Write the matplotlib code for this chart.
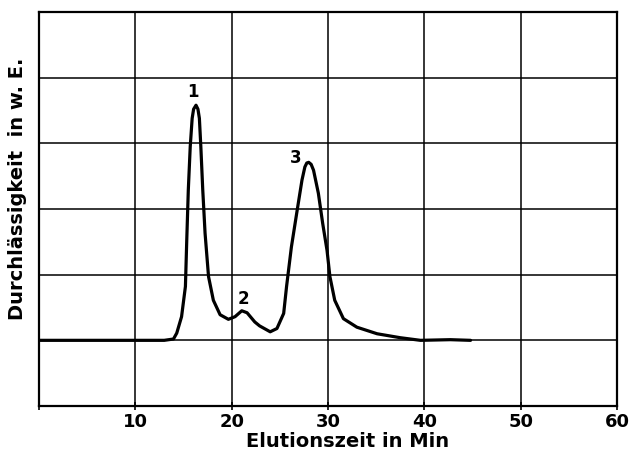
import matplotlib
matplotlib.use("Agg")
import matplotlib.pyplot as plt

# elution trace (time in min, transmission in arbitrary units)
zeit = [0.0, 5.0, 10.0, 13.0, 13.96, 14.3, 14.8, 15.2, 15.34, 15.5, 15.7, 15.9,
        16.05, 16.3, 16.5, 16.65, 16.8, 17.0, 17.24, 17.6, 18.1, 18.8, 19.66,
        20.35, 21.05, 21.6, 22.4, 22.9, 24.0, 24.7, 25.4, 25.7, 26.2, 26.8, 27.3,
        27.6, 27.8, 28.0, 28.25, 28.5, 29.0, 29.45, 29.9, 30.2, 30.7, 31.6, 33.0,
        35.1, 37.5, 39.6, 42.7, 44.8]
signal = [1.0, 1.0, 1.0, 1.0, 1.02, 1.11, 1.36, 1.82, 2.53, 3.29, 3.95, 4.38,
          4.52, 4.58, 4.52, 4.38, 3.95, 3.29, 2.63, 1.97, 1.61, 1.39, 1.32,
          1.36, 1.45, 1.42, 1.28, 1.22, 1.13, 1.18, 1.41, 1.82, 2.42, 2.98, 3.44,
          3.64, 3.70, 3.71, 3.68, 3.59, 3.24, 2.78, 2.37, 1.97, 1.61, 1.33, 1.20,
          1.10, 1.04, 1.0, 1.01, 1.0]

peak_labels = ["1", "2", "3"]
peak_x = [16.0, 21.2, 26.6]
peak_y = [4.78, 1.63, 3.77]

x_ticks = [0, 10, 20, 30, 40, 50, 60]
x_ticklabels = ["", "10", "20", "30", "40", "50", "60"]

fig = plt.figure(figsize=(6.33, 4.54), dpi=100)
ax = fig.add_axes([0.0616, 0.1057, 0.9131, 0.868])

ax.plot(zeit, signal, color="black", lw=2.3, solid_capstyle="round",
        solid_joinstyle="round", zorder=3)

for lab, px, py in zip(peak_labels, peak_x, peak_y):
    ax.text(px, py, lab, ha="center", va="center", fontsize=12,
            fontweight="bold", color="black")

ax.set_xlim(0, 60)
ax.set_ylim(0, 6)
ax.set_xticks(x_ticks)
ax.set_xticklabels(x_ticklabels, fontsize=13, fontweight="bold")
ax.set_yticks([0, 1, 2, 3, 4, 5, 6])
ax.set_yticklabels([])
ax.tick_params(axis="x", direction="inout", length=6, width=1.2, pad=2)
ax.tick_params(axis="y", length=0)
ax.grid(True, color="black", lw=1.1)

for s in ax.spines.values():
    s.set_linewidth(1.6)

ax.set_xlabel("Elutionszeit in Min", fontsize=14, fontweight="bold")
ax.xaxis.set_label_coords(0.533, -0.066)
ax.set_ylabel("Durchlässigkeit  in w. E.", fontsize=14, fontweight="bold")
ax.yaxis.set_label_coords(-0.02, 0.55)

fig.savefig("out.png", dpi=100)
